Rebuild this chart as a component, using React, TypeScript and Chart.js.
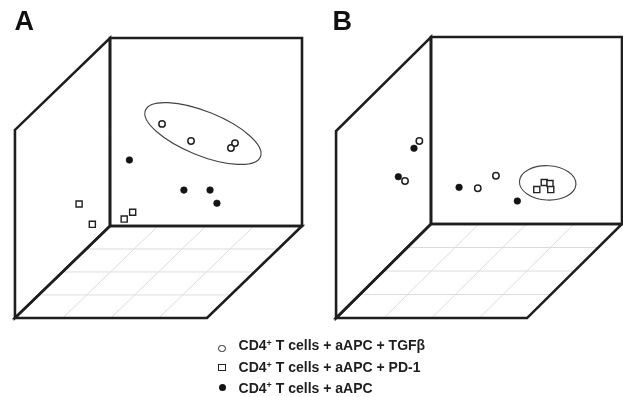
import React, { useEffect, useRef } from "react";
import { Chart, registerables } from "chart.js";

Chart.register(...registerables);

// ---- Data (plot units: each back face spans 0–100 on both axes) ----
const seriesNames = ["CD4+ T cells + aAPC + TGFβ", "CD4+ T cells + aAPC + PD-1", "CD4+ T cells + aAPC"];
const legendSuffixes = [" T cells + aAPC + TGFβ", " T cells + aAPC + PD-1", " T cells + aAPC"];
const panelLetters = ["A", "B"];

// Panel A
const aTgfX = [27.1, 42.2, 63.0, 65.1];
const aTgfY = [54.3, 45.2, 41.5, 44.1];
const aPd1X = [-16.1, -9.2, 7.4, 11.8];
const aPd1Y = [11.7, 0.9, 3.7, 7.3];
const aCtrlX = [10.1, 38.5, 52.1, 55.7];
const aCtrlY = [35.1, 19.1, 19.1, 12.1];
const aEllipse = [48.4, 49.2, 32.3, 11.7, 22]; // cx, cy, rx, ry, angle(deg)

// Panel B
const bTgfX = [-6.1, -13.6, 24.5, 34.0];
const bTgfY = [44.4, 23.0, 19.1, 25.8];
const bPd1X = [55.4, 59.3, 62.3, 62.7];
const bPd1Y = [18.4, 22.2, 21.6, 18.4];
const bCtrlX = [-8.9, -17.1, 14.7, 45.2];
const bCtrlY = [40.5, 25.3, 19.6, 12.3];
const bEllipse = [61.1, 22.0, 14.8, 9.2, 3];

// Cube: back face 0..100, depth vector (towards viewer)
const cubeSize = [0, 100];
const depthA = [-49.5, -48.9];
const depthB = [-49.7, -50.3];
const floorDivisions = 4;

// Scale ranges (view windows)
const xARange = [-57.29, 267.19];
const yARange = [-90.96, 120.21];
const xBRange = [-225.65, 100.53];
const yBRange = [-92.51, 119.79];

const zip = (xs: number[], ys: number[]) => xs.map((x, i) => ({ x, y: ys[i] }));

const panels = [
  { x: "xA", y: "yA", depth: depthA, ellipse: aEllipse },
  { x: "xB", y: "yB", depth: depthB, ellipse: bEllipse },
];

const cubePlugin = {
  id: "cubes",
  beforeDatasetsDraw(chart: any) {
    const ctx: CanvasRenderingContext2D = chart.ctx;
    for (const p of panels) {
      const sx = chart.scales[p.x];
      const sy = chart.scales[p.y];
      const P = (u: number, v: number): [number, number] => [sx.getPixelForValue(u), sy.getPixelForValue(v)];
      const [lo, hi] = cubeSize;
      const [dx, dy] = p.depth;
      ctx.save();
      // floor grid
      ctx.strokeStyle = "#dcdcdc";
      ctx.lineWidth = 1;
      ctx.beginPath();
      for (let i = 1; i < floorDivisions; i++) {
        const f = i / floorDivisions;
        let a = P(lo + f * dx, lo + f * dy);
        let b = P(hi + f * dx, lo + f * dy);
        ctx.moveTo(a[0], a[1]);
        ctx.lineTo(b[0], b[1]);
        const u = lo + f * (hi - lo);
        a = P(u, lo);
        b = P(u + dx, lo + dy);
        ctx.moveTo(a[0], a[1]);
        ctx.lineTo(b[0], b[1]);
      }
      ctx.stroke();

      // cube frame
      ctx.strokeStyle = "#1e1e1e";
      ctx.lineWidth = 2.6;
      ctx.lineJoin = "miter";
      ctx.lineCap = "square";
      const poly = (pts: [number, number][]) => {
        ctx.beginPath();
        pts.forEach((q, i) => (i === 0 ? ctx.moveTo(q[0], q[1]) : ctx.lineTo(q[0], q[1])));
        ctx.closePath();
        ctx.stroke();
      };
      poly([P(lo, lo), P(hi, lo), P(hi, hi), P(lo, hi)]);
      poly([P(lo, lo), P(lo, hi), P(lo + dx, hi + dy), P(lo + dx, lo + dy)]);
      poly([P(lo, lo), P(hi, lo), P(hi + dx, lo + dy), P(lo + dx, lo + dy)]);

      // ellipse
      const [cx, cy, rx, ry, ang] = p.ellipse;
      const c = P(cx, cy);
      const rxp = Math.abs(sx.getPixelForValue(cx + rx) - c[0]);
      const ryp = Math.abs(sy.getPixelForValue(cy + ry) - c[1]);
      ctx.strokeStyle = "#444";
      ctx.lineWidth = 1.1;
      ctx.beginPath();
      ctx.ellipse(c[0], c[1], rxp, ryp, (ang * Math.PI) / 180, 0, Math.PI * 2);
      ctx.stroke();
      ctx.restore();
    }
  },
};

const openCircle = { pointStyle: "circle", pointRadius: 3.2, pointBorderWidth: 1.5, pointBackgroundColor: "#fff", pointBorderColor: "#222" };
const openSquare = { pointStyle: "rect", pointRadius: 4.3, pointBorderWidth: 1.4, pointBackgroundColor: "#fff", pointBorderColor: "#222" };
const filledCircle = { pointStyle: "circle", pointRadius: 3.3, pointBorderWidth: 0.6, pointBackgroundColor: "#141414", pointBorderColor: "#141414" };

export default function App() {
  const ref = useRef<HTMLCanvasElement>(null);
  useEffect(() => {
    if (!ref.current) return;
    const chart = new Chart(ref.current, {
      type: "scatter",
      data: {
        datasets: [
          { label: seriesNames[0] + " (A)", data: zip(aTgfX, aTgfY), xAxisID: "xA", yAxisID: "yA", ...openCircle },
          { label: seriesNames[1] + " (A)", data: zip(aPd1X, aPd1Y), xAxisID: "xA", yAxisID: "yA", ...openSquare },
          { label: seriesNames[2] + " (A)", data: zip(aCtrlX, aCtrlY), xAxisID: "xA", yAxisID: "yA", ...filledCircle },
          { label: seriesNames[0] + " (B)", data: zip(bTgfX, bTgfY), xAxisID: "xB", yAxisID: "yB", ...openCircle },
          { label: seriesNames[1] + " (B)", data: zip(bPd1X, bPd1Y), xAxisID: "xB", yAxisID: "yB", ...openSquare },
          { label: seriesNames[2] + " (B)", data: zip(bCtrlX, bCtrlY), xAxisID: "xB", yAxisID: "yB", ...filledCircle },
        ] as any,
      },
      options: {
        animation: false,
        responsive: false,
        maintainAspectRatio: false,
        devicePixelRatio: 1,
        events: [],
        layout: { padding: 0, autoPadding: false },
        plugins: { legend: { display: false }, tooltip: { enabled: false } },
        scales: {
          xA: { type: "linear", display: false, min: xARange[0], max: xARange[1] },
          yA: { type: "linear", display: false, min: yARange[0], max: yARange[1] },
          xB: { type: "linear", display: false, min: xBRange[0], max: xBRange[1] },
          yB: { type: "linear", display: false, min: yBRange[0], max: yBRange[1] },
        },
      } as any,
      plugins: [cubePlugin],
    });
    return () => chart.destroy();
  }, []);

  const font = '"Liberation Sans", Arial, Helvetica, sans-serif';
  const rowTops = [338, 360, 380.6];
  const markerCenters = [348.3, 367.7, 387.7];
  const markerStyles: React.CSSProperties[] = [
    { width: 7.6, height: 7.6, border: "1.4px solid #222", borderRadius: "50%", background: "#fff" },
    { width: 7.2, height: 7.2, border: "1.3px solid #222", background: "#fff" },
    { width: 7, height: 7, borderRadius: "50%", background: "#141414" },
  ];

  return (
    <div style={{ position: "absolute", left: 0, top: 0, width: 623, height: 397, background: "#fff", overflow: "hidden" }}>
      <canvas ref={ref} width={623} height={397} style={{ display: "block", width: 623, height: 397 }} />
      {panelLetters.map((t, i) => (
        <div
          key={t}
          style={{ position: "absolute", left: i === 0 ? 14.5 : 332.5, top: 8.3, font: `bold 27px ${font}`, lineHeight: "27px", color: "#111" }}
        >
          {t}
        </div>
      ))}
      {legendSuffixes.map((s, i) => (
        <React.Fragment key={i}>
          <span
            style={{
              position: "absolute",
              boxSizing: "border-box",
              left: 222 - (markerStyles[i].width as number) / 2,
              top: markerCenters[i] - (markerStyles[i].height as number) / 2,
              ...markerStyles[i],
            }}
          />
          <div
            style={{ position: "absolute", left: 238.6, top: rowTops[i], font: `bold 14px ${font}`, lineHeight: "14px", color: "#1e1e1e", whiteSpace: "nowrap" }}
          >
            CD4
            <sup style={{ fontSize: "9px", verticalAlign: "baseline", position: "relative", top: "-4.5px", lineHeight: 0 }}>+</sup>
            {s}
          </div>
        </React.Fragment>
      ))}
    </div>
  );
}
